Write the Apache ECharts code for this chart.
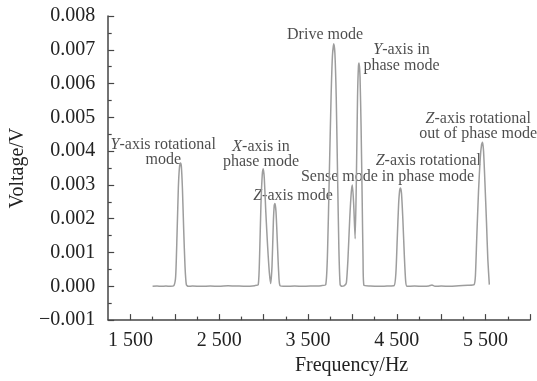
<!DOCTYPE html>
<html>
<head>
<meta charset="utf-8">
<script src="https://cdn.jsdelivr.net/npm/echarts@6/dist/echarts.min.js"></script>
<style>
  html, body { margin: 0; padding: 0; background: #fff; }
  #chart { width: 537px; height: 381px; }
</style>
</head>
<body>
<div id="chart"></div>
<script>
// Frequency sweep of the gyro structure.
const freqHz = [
  1750, 1800, 1850, 1900, 1950, 1990, 2010, 2025, 2040, 2052, 2064, 2074, 2086, 2100, 2115, 2130,
  2150, 2200, 2300, 2400, 2500, 2600, 2700, 2800, 2900, 2940, 2955, 2970, 2985, 2996, 3008, 3025,
  3045, 3065, 3080, 3095, 3110, 3120, 3128, 3140, 3155, 3170, 3185, 3250, 3350, 3450, 3550, 3650,
  3700, 3720, 3740, 3760, 3775, 3790, 3803, 3818, 3833, 3848, 3862, 3880, 3910, 3932, 3950, 3970,
  3988, 4000, 4015, 4031, 4045, 4058, 4068, 4076, 4086, 4098, 4110, 4120, 4130, 4200, 4300, 4400,
  4470, 4490, 4505, 4520, 4532, 4542, 4553, 4568, 4585, 4600, 4615, 4700, 4800, 4860, 4896, 4930,
  5000, 5100, 5200, 5300, 5370, 5385, 5400, 5420, 5440, 5455, 5465, 5477, 5492, 5510, 5525, 5542
];
const voltage = [
  0.00000, 0.00001, 0.00000, 0.00001, 0.00000, 0.00002, 0.00030, 0.00150, 0.00290, 0.00350, 0.00365, 0.00355, 0.00290, 0.00170, 0.00060, 0.00005,
  0.00000, 0.00001, 0.00000, 0.00001, 0.00000, 0.00002, 0.00001, 0.00000, 0.00002, 0.00005, 0.00090, 0.00240, 0.00330, 0.00348, 0.00320, 0.00220,
  0.00120, 0.00040, 0.00008, 0.00060, 0.00190, 0.00240, 0.00245, 0.00220, 0.00130, 0.00040, 0.00002, 0.00000, 0.00001, 0.00000, 0.00001, 0.00002,
  0.00005, 0.00100, 0.00330, 0.00560, 0.00680, 0.00718, 0.00690, 0.00560, 0.00330, 0.00110, 0.00005, 0.00000, 0.00002, 0.00010, 0.00080, 0.00200,
  0.00280, 0.00300, 0.00240, 0.00141, 0.00320, 0.00560, 0.00650, 0.00661, 0.00620, 0.00470, 0.00260, 0.00080, 0.00003, 0.00001, 0.00000, 0.00001,
  0.00002, 0.00040, 0.00140, 0.00240, 0.00283, 0.00291, 0.00275, 0.00200, 0.00090, 0.00015, 0.00000, 0.00001, 0.00000, 0.00001, 0.00004, 0.00000,
  0.00001, 0.00000, 0.00002, 0.00003, 0.00005, 0.00030, 0.00140, 0.00280, 0.00380, 0.00420, 0.00426, 0.00400, 0.00310, 0.00190, 0.00080, 0.00005
];

const xLabelTicks = [1500, 2500, 3500, 4500, 5500];
const xMajorTicks = [1500, 2000, 2500, 3000, 3500, 4000, 4500, 5000, 5500, 6000];
const xMinorTicks = [1750, 2250, 2750, 3250, 3750, 4250, 4750, 5250, 5750];

// mode annotations: text (with italic axis letter) and anchor [Hz, V]
const modeNames = [
  "{i|Y}-axis rotational\nmode",
  "{i|X}-axis in\nphase mode",
  "{i|Z}-axis mode",
  "Drive mode",
  "{i|Y}-axis in\nphase mode",
  "Sense mode in phase mode",
  "{i|Z}-axis rotational",
  "{i|Z}-axis rotational\nout of phase mode"
];
const modeFreq = [1870, 2971, 3331, 3692, 4553, 4396, 4855, 5417];
const modeVolt = [0.00397, 0.00391, 0.00269, 0.00743, 0.00677, 0.00325, 0.00372, 0.00474];

const SERIF = "'Liberation Serif', 'DejaVu Serif', serif";
const AXIS_COLOR = "#454545";

const chart = echarts.init(document.getElementById("chart"));

const fmtVolt = (v) => {
  if (Math.abs(v) < 1e-9) return "0.000";
  return (v < 0 ? "\u2212" : "") + Math.abs(v).toFixed(3);
};
const fmtHz = (v) => {
  const s = String(Math.round(v));
  return s.slice(0, s.length - 3) + " " + s.slice(-3);
};

chart.setOption({
  animation: false,
  backgroundColor: "#fff",
  grid: { left: 105, right: 7, top: 16, bottom: 49.5 },
  xAxis: [
    {
      type: "value",
      min: 1250,
      max: 6000,
      name: "Frequency/Hz",
      nameLocation: "middle",
      nameGap: 31,
      nameTextStyle: { fontFamily: SERIF, fontSize: 20, color: "#222", padding: [0, 0, 0, 65] },
      splitLine: { show: false },
      axisLine: { show: true, onZero: false, lineStyle: { color: AXIS_COLOR, width: 1.5 } },
      axisTick: { show: true, inside: true, length: 6, customValues: xMajorTicks,
        lineStyle: { color: AXIS_COLOR, width: 1.2 } },
      axisLabel: { customValues: xLabelTicks, formatter: fmtHz, margin: 11,
        fontFamily: SERIF, fontSize: 20, color: "#222" }
    },
    {
      // minor ticks only
      type: "value",
      min: 1250,
      max: 6000,
      position: "bottom",
      splitLine: { show: false },
      axisLine: { show: false, onZero: false },
      axisTick: { show: true, inside: true, length: 3.5, customValues: xMinorTicks,
        lineStyle: { color: AXIS_COLOR, width: 1.2 } },
      axisLabel: { show: false }
    }
  ],
  yAxis: {
    type: "value",
    min: -0.001,
    max: 0.008,
    interval: 0.001,
    name: "Voltage/V",
    nameLocation: "middle",
    nameGap: 76,
    nameTextStyle: { fontFamily: SERIF, fontSize: 20, color: "#222" },
    splitLine: { show: false },
    axisLine: { show: true, onZero: false, lineStyle: { color: AXIS_COLOR, width: 1.5 } },
    axisTick: { show: true, inside: true, length: 6, lineStyle: { color: AXIS_COLOR, width: 1.2 } },
    minorTick: { show: true, splitNumber: 2, length: 3.5, lineStyle: { color: AXIS_COLOR, width: 1.2 } },
    axisLabel: { formatter: fmtVolt, margin: 13, fontFamily: SERIF, fontSize: 20, color: "#222" }
  },
  series: [
    {
      type: "line",
      name: "Voltage",
      silent: true,
      showSymbol: false,
      smooth: 0.2,
      lineStyle: { color: "#9d9d9d", width: 1.5 },
      data: freqHz.map((f, i) => [f, voltage[i]])
    },
    {
      type: "scatter",
      name: "Modes",
      silent: true,
      symbolSize: 0,
      label: {
        show: true,
        position: "inside",
        formatter: "{b}",
        fontFamily: SERIF,
        fontSize: 16,
        lineHeight: 15.5,
        color: "#1e1e1e",
        rich: {
          i: { fontFamily: SERIF, fontSize: 16, lineHeight: 15.5, color: "#1e1e1e", fontStyle: "italic" }
        }
      },
      data: modeNames.map((n, i) => ({ name: n, value: [modeFreq[i], modeVolt[i]] }))
    }
  ]
});
</script>
</body>
</html>
